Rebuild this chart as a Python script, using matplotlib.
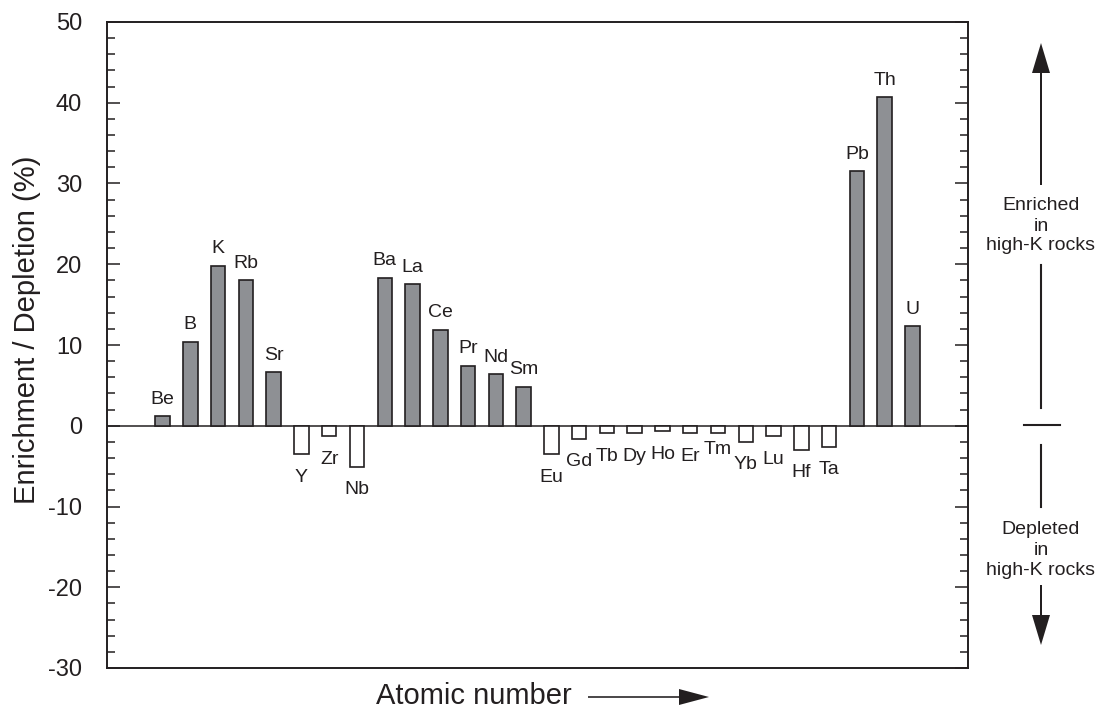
import matplotlib.pyplot as plt
import numpy as np

plt.rcParams["font.family"] = ["Liberation Sans", "DejaVu Sans"]
plt.rcParams["axes.unicode_minus"] = False

INK = "#231f20"

# element order follows atomic number
elements = ["Be", "B", "K", "Rb", "Sr", "Y", "Zr", "Nb", "Ba", "La", "Ce", "Pr",
            "Nd", "Sm", "Eu", "Gd", "Tb", "Dy", "Ho", "Er", "Tm", "Yb", "Lu",
            "Hf", "Ta", "Pb", "Th", "U"]
# enrichment (+) / depletion (-) in high-K rocks, percent
change = [1.2, 10.4, 19.8, 18.0, 6.6, -3.5, -1.3, -5.1, 18.3, 17.5, 11.9, 7.4,
          6.4, 4.8, -3.5, -1.6, -0.9, -0.9, -0.7, -0.9, -0.9, -2.0, -1.3,
          -3.0, -2.6, 31.5, 40.7, 12.3]

y_ticks = [-30, -20, -10, 0, 10, 20, 30, 40, 50]

W, H = 1097, 710
fig = plt.figure(figsize=(W / 100, H / 100), dpi=100)
ax = fig.add_axes([107 / W, 1 - 668 / H, 861 / W, 646 / H])

x = np.arange(len(elements))
vals = np.array(change)
colors = ["#8e9094" if v > 0 else "white" for v in vals]
ax.bar(x, vals, width=0.52, color=colors, edgecolor=INK, linewidth=1.2, zorder=2)
ax.axhline(0, color=INK, lw=1.1, zorder=1)

# element names above / below each bar
nudge = {"Tm": 5}
for xi, v, name in zip(x, vals, elements):
    if v > 0:
        off = 9
    else:
        off = -19.8 + nudge.get(name, 0)
    ax.annotate(name, (xi, v), xytext=(0, off), textcoords="offset points",
                ha="center", va="baseline", fontsize=14, color=INK)

ax.set_xlim(-2, len(elements) + 1)
ax.set_ylim(-30, 50)
ax.set_yticks(y_ticks)
ax.set_yticks(np.arange(-30, 51, 2), minor=True)
ax.set_xticks([])
ax.tick_params(axis="y", which="both", direction="in", left=True, right=True,
               color=INK, width=1.1, labelsize=17, labelcolor=INK, pad=18)
ax.tick_params(axis="y", which="major", length=9.4)
ax.tick_params(axis="y", which="minor", length=5.8)
for s in ax.spines.values():
    s.set_linewidth(1.4)
    s.set_color(INK)

# overlay in pixel units for the side notes and axis captions
ov = fig.add_axes([0, 0, 1, 1], zorder=5)
ov.set_xlim(0, W)
ov.set_ylim(H, 0)
ov.axis("off")
ov.patch.set_visible(False)

ov.text(27, 330, "Enrichment / Depletion (%)", rotation=90, ha="center",
        va="center", fontsize=21, color=INK)
ov.text(474, 704, "Atomic number", ha="center", va="baseline", fontsize=21,
        color=INK)
ov.arrow(588, 697, 121, 0, width=1.6, head_width=16, head_length=30,
         length_includes_head=True, color=INK, lw=0)

cx = 1041
ov.arrow(cx, 185, 0, 43 - 185, width=2, head_width=18, head_length=30,
         length_includes_head=True, color=INK, lw=0)
ov.plot([cx, cx], [265, 408], color=INK, lw=1.5)
ov.plot([1024, 1060], [425, 425], color=INK, lw=1.5)
ov.plot([cx, cx], [445, 507], color=INK, lw=1.5)
ov.arrow(cx, 585, 0, 645 - 585, width=2, head_width=18, head_length=30,
         length_includes_head=True, color=INK, lw=0)
for yb, line in zip([210, 231, 250], ["Enriched", "in", "high-K rocks"]):
    ov.text(cx, yb, line, ha="center", va="baseline", fontsize=14, color=INK)
for yb, line in zip([534, 555, 575], ["Depleted", "in", "high-K rocks"]):
    ov.text(cx, yb, line, ha="center", va="baseline", fontsize=14, color=INK)

fig.savefig("out.png", dpi=100)
